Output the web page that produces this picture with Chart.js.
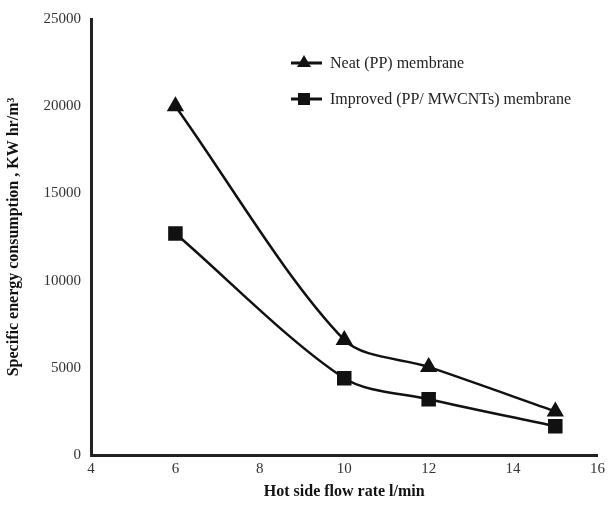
<!DOCTYPE html>
<html>
<head>
<meta charset="utf-8">
<script src="https://cdn.jsdelivr.net/npm/chart.js@4/dist/chart.umd.min.js"></script>
<style>
  html, body { margin: 0; padding: 0; background: #fff; }
  #wrap { width: 610px; height: 505px; }
</style>
</head>
<body>
<div id="wrap"><canvas id="chart" width="610" height="505"></canvas></div>
<script>
const flowRates = [6, 10, 12, 15];
const neatValues = [20000, 6600, 5050, 2500];
const improvedValues = [12700, 4400, 3200, 1650];
const seriesNames = ['Neat (PP) membrane', 'Improved (PP/ MWCNTs) membrane'];
const xTitle = 'Hot side flow rate l/min';
const yTitle = 'Specific energy consumption , KW hr/m\u00B3';

const serif = "'Liberation Serif', 'Times New Roman', serif";

// legend drawn inside the plot, top right
const insideLegend = {
    id: 'insideLegend',
    afterDraw(chart) {
        const ctx = chart.ctx;
        const rowY = [63, 99];
        chart.data.datasets.forEach((ds, i) => {
            const y = rowY[i];
            ctx.save();
            ctx.strokeStyle = '#111';
            ctx.lineWidth = 3;
            ctx.beginPath();
            ctx.moveTo(291, y);
            ctx.lineTo(322, y);
            ctx.stroke();
            ctx.fillStyle = '#111';
            if (ds.pointStyle === 'triangle') {
                ctx.beginPath();
                ctx.moveTo(304, y - 8);
                ctx.lineTo(311, y + 4);
                ctx.lineTo(297, y + 4);
                ctx.closePath();
                ctx.fill();
            } else {
                ctx.fillRect(298, y - 6, 12, 12);
            }
            ctx.font = '16px ' + serif;
            ctx.fillStyle = '#222';
            ctx.textBaseline = 'middle';
            ctx.fillText(ds.label, 330, y + 1);
            ctx.restore();
        });
    }
};

const ctx = document.getElementById('chart').getContext('2d');
new Chart(ctx, {
    type: 'line',
    data: {
        datasets: [{
            label: seriesNames[0],
            data: flowRates.map((x, i) => ({ x: x, y: neatValues[i] })),
            borderColor: '#111',
            backgroundColor: '#111',
            borderWidth: 2.5,
            pointStyle: 'triangle',
            pointRadius: 7.5,
            tension: 0.3
        }, {
            label: seriesNames[1],
            data: flowRates.map((x, i) => ({ x: x, y: improvedValues[i] })),
            borderColor: '#111',
            backgroundColor: '#111',
            borderWidth: 2.5,
            pointStyle: 'rect',
            pointRadius: 8.5,
            tension: 0.3
        }]
    },
    options: {
        responsive: false,
        animation: false,
        layout: { padding: { top: 14, right: 10, left: 0, bottom: 0 } },
        plugins: {
            legend: { display: false },
            tooltip: { enabled: false }
        },
        scales: {
            x: {
                type: 'linear',
                min: 4,
                max: 16,
                grid: { display: false, drawTicks: false },
                border: { color: '#222', width: 3 },
                ticks: {
                    stepSize: 2,
                    padding: 5,
                    color: '#333',
                    font: { family: serif, size: 15 },
                    callback: v => String(v)
                },
                title: {
                    display: true,
                    text: xTitle,
                    color: '#111',
                    padding: { top: 4 },
                    font: { family: serif, size: 16, weight: 'bold' }
                },
                afterFit(scale) { scale.height = 50; }
            },
            y: {
                min: 0,
                max: 25000,
                grid: { display: false, drawTicks: false },
                border: { color: '#222', width: 3 },
                ticks: {
                    stepSize: 5000,
                    padding: 10,
                    color: '#333',
                    font: { family: serif, size: 15 },
                    callback: v => String(v)
                },
                title: {
                    display: true,
                    text: yTitle,
                    color: '#111',
                    padding: { bottom: 2 },
                    font: { family: serif, size: 16, weight: 'bold' }
                },
                afterFit(scale) { scale.width = 91; }
            }
        }
    },
    plugins: [insideLegend]
});
</script>
</body>
</html>
